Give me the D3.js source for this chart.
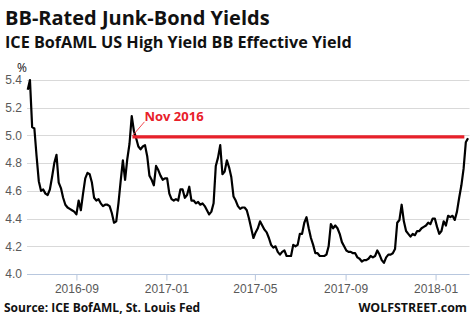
<!DOCTYPE html>
<html>
<head>
<meta charset="utf-8">
<script src="https://cdn.jsdelivr.net/npm/d3@7"></script>
<style>
    body { margin: 0; background: #fff; }
    svg { display: block; font-family: 'Open Sans', sans-serif; }
    .grid line { stroke: #d9d9d9; stroke-width: 1; }
    .tick-label { fill: #595959; font-size: 12px; }
</style>
</head>
<body>
<div id="chart"></div>
<script>
// BB effective yield, one reading every 3 days starting 2016-06-27
const seriesStart = new Date(2016, 5, 27)
const stepDays = 3
const yields = [
    5.33, 5.40, 5.06, 5.05, 4.85, 4.67, 4.60, 4.61, 4.58, 4.57,
    4.61, 4.70, 4.80, 4.86, 4.66, 4.62, 4.55, 4.50, 4.48, 4.47,
    4.46, 4.45, 4.43, 4.53, 4.46, 4.58, 4.69, 4.73, 4.72, 4.66,
    4.55, 4.53, 4.54, 4.51, 4.49, 4.50, 4.50, 4.49, 4.44, 4.37,
    4.38, 4.51, 4.67, 4.82, 4.68, 4.83, 4.94, 5.14, 5.03, 4.98,
    4.92, 4.90, 4.92, 4.93, 4.85, 4.71, 4.68, 4.64, 4.78, 4.75,
    4.71, 4.68, 4.69, 4.69, 4.58, 4.54, 4.53, 4.54, 4.53, 4.61,
    4.61, 4.55, 4.57, 4.63, 4.53, 4.53, 4.51, 4.52, 4.50, 4.51,
    4.49, 4.46, 4.43, 4.45, 4.51, 4.78, 4.84, 4.93, 4.72, 4.74,
    4.82, 4.77, 4.70, 4.56, 4.53, 4.49, 4.47, 4.48, 4.48, 4.46,
    4.40, 4.33, 4.26, 4.30, 4.33, 4.38, 4.35, 4.32, 4.30, 4.26,
    4.21, 4.19, 4.20, 4.16, 4.14, 4.16, 4.17, 4.13, 4.13, 4.13,
    4.21, 4.20, 4.21, 4.29, 4.29, 4.37, 4.41, 4.33, 4.26, 4.21,
    4.15, 4.15, 4.13, 4.13, 4.13, 4.14, 4.20, 4.36, 4.33, 4.35,
    4.33, 4.29, 4.23, 4.20, 4.17, 4.16, 4.16, 4.15, 4.15, 4.12,
    4.11, 4.09, 4.10, 4.10, 4.11, 4.13, 4.12, 4.13, 4.17, 4.14,
    4.10, 4.08, 4.12, 4.14, 4.14, 4.15, 4.18, 4.37, 4.39, 4.50,
    4.38, 4.31, 4.29, 4.27, 4.29, 4.28, 4.31, 4.31, 4.33, 4.34,
    4.35, 4.37, 4.36, 4.40, 4.40, 4.34, 4.29, 4.31, 4.38, 4.35,
    4.42, 4.41, 4.42, 4.39, 4.45, 4.55, 4.64, 4.76, 4.95, 4.98
]
const dates = d3.timeDay.range(seriesStart, d3.timeDay.offset(seriesStart, yields.length * stepDays), stepDays)
const data = dates.map((d, i) => ({ date: d, value: yields[i] }))

const yTicks = [4.0, 4.2, 4.4, 4.6, 4.8, 5.0, 5.2, 5.4]
const xTicks = [new Date(2016, 8, 1), new Date(2017, 0, 1), new Date(2017, 4, 1), new Date(2017, 8, 1), new Date(2018, 0, 1)]

// Nov 2016 high carried forward
const marker = { label: 'Nov 2016', from: new Date(2016, 10, 16), to: new Date(2018, 1, 9), value: 4.99 }

const width = 476
const height = 327
const plot = { left: 27, right: 469.5, top: 80, bottom: 274 }

const svg = d3.select('#chart')
    .append('svg')
    .attr('width', width)
    .attr('height', height)

const x = d3.scaleTime()
    .domain([new Date(2016, 5, 26), new Date(2018, 1, 16)])
    .range([plot.left, plot.right])
const y = d3.scaleLinear()
    .domain([4.0, 5.4])
    .range([plot.bottom, plot.top])

// titles
svg.append('text')
    .attr('x', 5).attr('y', 25)
    .attr('font-size', 20).attr('font-weight', 'bold').attr('fill', '#111')
    .text('BB-Rated Junk-Bond Yields')
svg.append('text')
    .attr('x', 5).attr('y', 48)
    .attr('font-size', 16.2).attr('font-weight', 'bold').attr('fill', '#111')
    .text('ICE BofAML US High Yield BB Effective Yield')
svg.append('text')
    .attr('x', 22).attr('y', 72)
    .attr('text-anchor', 'middle')
    .attr('font-size', 12).attr('fill', '#111')
    .text('%')

// horizontal gridlines
svg.append('g')
    .attr('class', 'grid')
    .selectAll('line')
    .data(yTicks.filter(d => d > 4.0))
    .enter()
    .append('line')
    .attr('x1', plot.left).attr('x2', plot.right)
    .attr('y1', d => Math.round(y(d)) + 0.5)
    .attr('y2', d => Math.round(y(d)) + 0.5)

// bottom axis
const xAxis = d3.axisBottom(x)
    .tickValues(xTicks)
    .tickFormat(d3.timeFormat('%Y-%m'))
    .tickSize(6)
    .tickPadding(4)
const gx = svg.append('g')
    .attr('transform', `translate(0, ${Math.round(y(4.0)) + 0.5})`)
    .call(xAxis)
gx.select('.domain').attr('stroke', '#b8c7de').attr('d', `M${plot.left},0H${plot.right}`)
gx.selectAll('.tick line').attr('stroke', '#b8c7de')
gx.selectAll('.tick text')
    .attr('class', 'tick-label')
    .attr('font-family', null).attr('font-size', null)

// left axis labels
const yAxis = d3.axisLeft(y)
    .tickValues(yTicks)
    .tickFormat(d3.format('.1f'))
    .tickSize(0)
    .tickPadding(3)
const gy = svg.append('g')
    .attr('transform', `translate(${plot.left - 2}, 0)`)
    .call(yAxis)
gy.select('.domain').remove()
gy.selectAll('.tick text')
    .attr('class', 'tick-label')
    .attr('font-family', null).attr('font-size', null)

// yield line
const line = d3.line()
    .x(d => x(d.date))
    .y(d => y(d.value))
svg.append('path')
    .datum(data)
    .attr('fill', 'none')
    .attr('stroke', '#000')
    .attr('stroke-width', 2.2)
    .attr('stroke-linejoin', 'round')
    .attr('d', line)

// Nov 2016 reference line and label
svg.append('line')
    .attr('x1', x(marker.from)).attr('x2', x(marker.to))
    .attr('y1', y(marker.value)).attr('y2', y(marker.value))
    .attr('stroke', '#e8202a')
    .attr('stroke-width', 3.2)
svg.append('line')
    .attr('x1', x(marker.from)).attr('y1', y(marker.value) - 1)
    .attr('x2', x(marker.from) + 12).attr('y2', y(marker.value) - 15)
    .attr('stroke', '#e8202a')
    .attr('stroke-width', 0.8)
svg.append('text')
    .attr('x', x(marker.from) + 12).attr('y', y(marker.value) - 16)
    .attr('font-size', 13).attr('font-weight', 'bold').attr('fill', '#e8202a')
    .text(marker.label)

// footer
svg.append('text')
    .attr('x', 4).attr('y', 312)
    .attr('font-size', 12).attr('font-weight', 'bold').attr('fill', '#111')
    .text('Source: ICE BofAML, St. Louis Fed')
svg.append('text')
    .attr('x', 467).attr('y', 312)
    .attr('text-anchor', 'end')
    .attr('font-size', 12.4).attr('font-weight', 'bold').attr('fill', '#111')
    .text('WOLFSTREET.com')
</script>
</body>
</html>
